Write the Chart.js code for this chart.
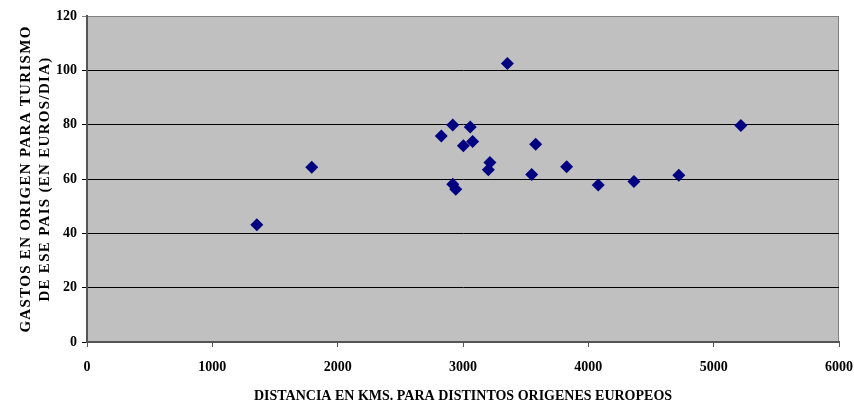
<!DOCTYPE html>
<html>
<head>
<meta charset="utf-8">
<script src="https://cdn.jsdelivr.net/npm/chart.js@4"></script>
<style>
  html, body { margin: 0; padding: 0; background: #fff; }
  #wrap { width: 854px; height: 405px; }
</style>
</head>
<body>
<div id="wrap"><canvas id="grafico" width="854" height="405"></canvas></div>
<script>
"use strict";

/* ============================================================
   DATOS
============================================================ */
const distancias = [1355, 1793, 2827, 2918, 3058, 3003, 3077, 3354, 3580, 3215,
                    3202, 3548, 3827, 2918, 2942, 4079, 4364, 4722, 5217];
const gastos = [43.2, 64.3, 75.8, 79.9, 79.1, 72.2, 73.8, 102.5, 72.8, 66.1,
                63.4, 61.7, 64.5, 58.1, 56.2, 57.8, 59.1, 61.4, 79.7];

const tituloX = "DISTANCIA EN KMS. PARA DISTINTOS ORIGENES EUROPEOS";
const tituloY = ["GASTOS EN ORIGEN PARA TURISMO", "DE ESE PAIS (EN EUROS/DIA)"];

const FUENTE = "'Liberation Serif', 'Times New Roman', serif";

/* ============================================================
   PLUGINS
============================================================ */
// fondo gris del area de trazado y marco
const fondoPlot = {
  id: 'fondoPlot',
  beforeDraw(chart) {
    const { ctx, chartArea: a } = chart;
    ctx.save();
    ctx.fillStyle = '#C0C0C0';
    ctx.fillRect(a.left, a.top, a.right - a.left, a.bottom - a.top);
    ctx.strokeStyle = '#808080';
    ctx.lineWidth = 1;
    ctx.strokeRect(a.left + 0.5, a.top + 0.5, a.right - a.left - 1, a.bottom - a.top);
    ctx.restore();
  }
};

// titulo del eje Y con letras espaciadas
const espaciadoY = {
  id: 'espaciadoY',
  beforeDraw(chart) {
    const s = chart.scales.y;
    if (!s || s._espaciado) return;
    const orig = s.drawTitle;
    s.drawTitle = function () {
      const ctx = this.ctx;
      ctx.save();
      ctx.letterSpacing = '1.3px';
      orig.call(this);
      ctx.restore();
    };
    s._espaciado = true;
  }
};

/* ============================================================
   GRAFICO
============================================================ */
const puntos = distancias.map((d, i) => ({ x: d, y: gastos[i] }));

new Chart(document.getElementById('grafico').getContext('2d'), {
  type: 'scatter',
  data: {
    datasets: [{
      data: puntos,
      pointStyle: 'rectRot',
      pointRadius: 6.5,
      pointHoverRadius: 6.5,
      backgroundColor: '#000080',
      borderColor: '#000080',
      borderWidth: 0
    }]
  },
  options: {
    responsive: false,
    animation: false,
    devicePixelRatio: 1,
    layout: { padding: { top: 16, right: 15, left: 0, bottom: 0 } },
    plugins: {
      legend: { display: false },
      tooltip: { enabled: false }
    },
    scales: {
      x: {
        type: 'linear',
        min: 0,
        max: 6000,
        ticks: {
          stepSize: 1000,
          color: '#000',
          padding: 12,
          font: { family: FUENTE, size: 14, weight: 'bold' },
          callback: v => String(v)
        },
        grid: { drawOnChartArea: false, drawTicks: true, tickLength: 5, color: '#555' },
        border: { color: '#555', width: 2 },
        title: {
          display: true,
          text: tituloX,
          color: '#000',
          padding: { top: 0, bottom: 0 },
          font: { family: FUENTE, size: 14, weight: 'bold' }
        },
        afterFit(scale) {
          scale.height = 63;
          scale.paddingLeft = 0;
          scale.paddingRight = 0;
        }
      },
      y: {
        min: 0,
        max: 120,
        ticks: {
          stepSize: 20,
          color: '#000',
          padding: 5,
          font: { family: FUENTE, size: 14, weight: 'bold' }
        },
        grid: {
          tickLength: 5,
          lineWidth: 1,
          color: ctx => (ctx.tick && ctx.tick.value === 120 ? '#808080' : '#000')
        },
        border: { color: '#555', width: 2 },
        title: {
          display: true,
          text: tituloY,
          color: '#000',
          padding: { top: 17, bottom: 0 },
          font: { family: FUENTE, size: 15, weight: 'bold', lineHeight: 1.27 }
        },
        afterFit(scale) {
          scale.width = 87;
          scale.paddingTop = 0;
          scale.paddingBottom = 0;
        }
      }
    }
  },
  plugins: [fondoPlot, espaciadoY]
});
</script>
</body>
</html>
